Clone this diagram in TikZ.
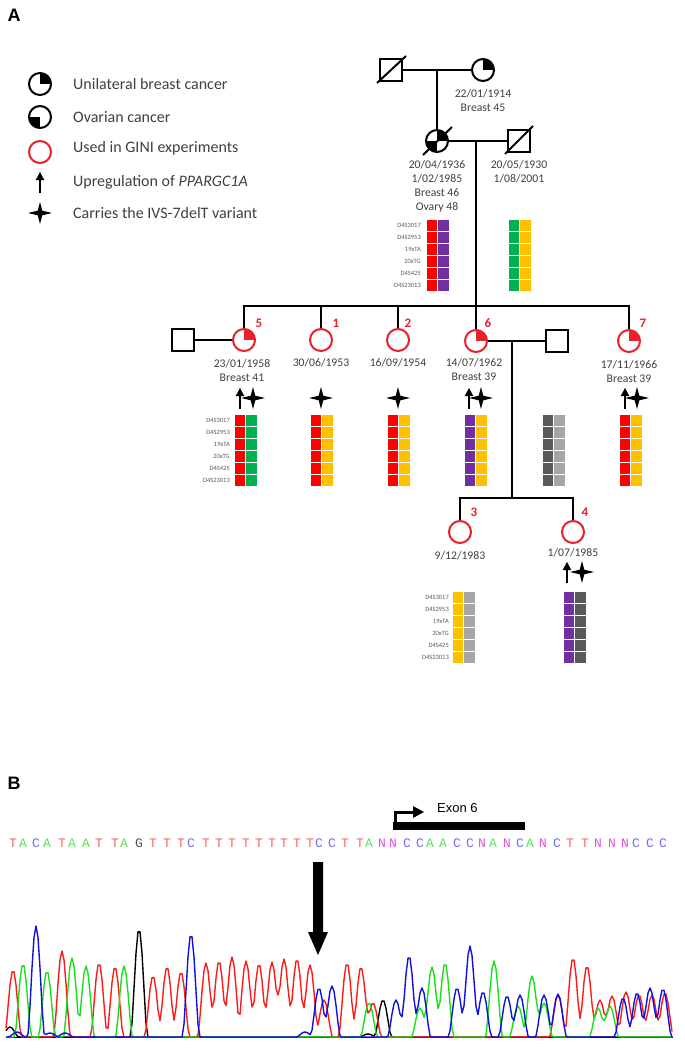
\documentclass[tikz,border=0pt]{standalone}
\usepackage{fontspec}
\setmainfont{Carlito}
\newfontfamily\arialf{Liberation Sans}
\newfontfamily\monof{Liberation Mono}
\usetikzlibrary{calc}
\definecolor{txt}{HTML}{404040}
\definecolor{hred}{HTML}{FF0000}
\definecolor{hpur}{HTML}{7030A0}
\definecolor{hgrn}{HTML}{00B050}
\definecolor{hyel}{HTML}{FFC000}
\definecolor{hdgr}{HTML}{595959}
\definecolor{hlgr}{HTML}{A6A6A6}
\definecolor{pedred}{HTML}{E8202A}
\definecolor{colT}{HTML}{F06464}
\definecolor{colA}{HTML}{5CE05C}
\definecolor{colC}{HTML}{6E6EF0}
\definecolor{colG}{HTML}{505050}
\definecolor{colN}{HTML}{E050E0}
\definecolor{trR}{HTML}{FF1A1A}
\definecolor{trG}{HTML}{1AE01A}
\definecolor{trB}{HTML}{1010E0}
\definecolor{trK}{HTML}{000000}

\makeatletter
\newdimen\trcd
\newcommand\mktrace[2]{%
  \gdef\trc@path{}%
  \foreach \xx in {6,8,...,672}{%
    \gdef\trc@s{0}%
    \foreach \cc/\hh in #2{%
      \trcd=\xx pt\relax
      \advance\trcd by -\cc pt\relax
      \ifdim\trcd<0pt \trcd=-\trcd\fi
      \ifdim\trcd<8.7pt
        \pgfmathsetmacro\trc@t{\trc@s+\hh*(1-(\the\trcd/8.7)^2)^2}%
        \xdef\trc@s{\trc@t}%
      \fi
    }%
    \pgfmathsetmacro\trc@y{1037-\trc@s}%
    \xdef\trc@path{\trc@path(\xx,\trc@y)}%
  }%
  \global\let#1\trc@path
}
\makeatother

\def\redpeaks{13/67,62/86,99/74,115/70,153/61,167/70,181/65,206/74,219/76,232/80,246/76,259/73,272/75,284/78,297/78,310/72,324/37,347/74,361/70,373/34,558/42,573/79,587/71,600/37,612/41,626/45,639/42,652/42,665/44}
\def\greenpeaks{23/73,47/66,72/79,86/71,124/71,369/34,420/29,432/70,445/74,494/76,518/31,532/61,544/34,598/29,610/31}
\def\bluepeaks{17/5,36/111,50/4,65/4,191/103,305/5,319/49,332/51,396/37,409/81,422/49,457/49,470/91,483/45,507/41,520/42,544/42,558/43,623/39,637/44,650/49,663/48}
\def\blackpeaks{10/10,139/108,368/3,383/37}

\tikzset{
  starsym/.pic={\fill (0,-11) -- (2.3,-2.3) -- (12,0) -- (2.3,2.3) -- (0,11) -- (-2.3,2.3) -- (-12,0) -- (-2.3,-2.3) -- cycle;},
  uparrow/.pic={\draw[line width=2.2pt] (0,10) -- (0,-4); \fill (0,-11) -- (4.3,-3) -- (-4.3,-3) -- cycle;},
}

\newcommand\qfill[3]{\begin{scope}\clip (#1.center) circle[radius=11pt]; \fill[#3] (#1.center) rectangle ++(#2);\end{scope}}
\newcommand\hapblock[4]{%
  \foreach \k in {0,...,5}{%
    \filldraw[fill=#3, draw=white, line width=0.8pt] (#1,#2+12*\k) rectangle (#1+11.5,#2+12*\k+12);
    \filldraw[fill=#4, draw=white, line width=0.8pt] (#1+11.5,#2+12*\k) rectangle (#1+23,#2+12*\k+12);
  }}
\newcommand\haplabels[3]{%
  \foreach \lab [count=\k from 0] in {D4S3017,D4S2953,19xTA,20xTG,D4S425,D4S23013}{%
    \node[haplbl] (#3-\k) at (#1,#2+6+12*\k) {\lab};
  }}

\begin{document}
\begin{tikzpicture}[x=1pt,y=-1pt,
  ped/.style={line width=2pt},
  male/.style={draw=black, line width=2pt, rectangle, minimum size=22pt, inner sep=0pt},
  fem/.style={draw=black, line width=2pt, circle, minimum size=22pt, inner sep=0pt},
  gini/.style={fem, draw=pedred},
  lbl/.style={text=txt, font=\fontsize{11.7}{14}\selectfont, align=center, inner sep=0pt},
  num/.style={text=pedred, font=\fontsize{13}{14}\selectfont\bfseries, inner sep=0pt},
  leg/.style={text=txt, font=\fontsize{16}{18}\selectfont, anchor=west, inner sep=0pt},
  haplbl/.style={text=hdgr, font=\fontsize{6.5}{7}\selectfont, anchor=east, inner sep=0pt},
  seq/.style={font=\monof\fontsize{13}{14}\selectfont, inner sep=0pt},
  trace/.style={line width=1.4pt, line join=round},
  panel/.style={font=\arialf\bfseries\fontsize{18}{20}\selectfont, inner sep=0pt},
]
\useasboundingbox (0,0) rectangle (685,1049);

% panel labels
\node[panel] (panA) at (14,15) {A};
\node[panel] (panB) at (14,783) {B};

% legend
\node[fem] (legbc) at (40,84) {};
\qfill{legbc}{12pt,12pt}{black}
\node[fem] (legov) at (40,117) {};
\qfill{legov}{-12pt,-12pt}{black}
\node[gini] (legred) at (40,152) {};
\pic at (40,183) {uparrow};
\pic at (40,213) {starsym};
\node[leg] (t1) at (73,84) {Unilateral breast cancer};
\node[leg] (t2) at (73,117) {Ovarian cancer};
\node[leg] (t3) at (73,148) {Used in GINI experiments};
\node[leg] (t4) at (73,182) {Upregulation of \textit{PPARGC1A}};
\node[leg] (t5) at (73,213) {Carries the IVS-7delT variant};

% generation I
\node[male] (g1m) at (391,70) {};
\node[fem] (g1f) at (483,70) {};
\qfill{g1f}{12pt,12pt}{black}
\draw[ped] (g1m) -- (g1f);
\draw[ped] (g1m.center) ++(-14,13) -- ++(29,-27);
\coordinate (g1c) at (437,70);
\node[lbl] (g1ft) at (483,100) {22/01/1914\\Breast 45};

% generation II
\node[fem] (g2f) at (437,141) {};
\qfill{g2f}{12pt,12pt}{black}
\qfill{g2f}{-12pt,-12pt}{black}
\node[male] (g2m) at (519,141) {};
\draw[ped] (g1c) -- (g2f);
\draw[ped] (g2f) -- (g2m);
\draw[ped] (g2f.center) ++(-14,14) -- ++(29,-28);
\draw[ped] (g2m.center) ++(-14,13) -- ++(28,-28);
\node[lbl] (g2ft) at (437,186) {20/04/1936\\1/02/1985\\Breast 46\\Ovary 48};
\node[lbl] (g2mt) at (519,172) {20/05/1930\\1/08/2001};
\coordinate (g2c) at (476,141);
\coordinate (sib3) at (476,306);
\haplabels{421}{219}{hlA}
\hapblock{426}{219}{hred}{hpur}
\hapblock{508}{219}{hgrn}{hyel}

% generation III
\coordinate (s3l) at (244,306);
\coordinate (s3r) at (629,306);
\coordinate (c5) at (244,306);
\coordinate (c1) at (321,306);
\coordinate (c2) at (398,306);
\coordinate (c7) at (629,306);
\draw[ped] (g2c) -- (sib3);
\draw[ped] ([xshift=-1pt]s3l) -- ([xshift=1pt]s3r);
\node[male] (h5) at (183,340) {};
\node[gini] (p5) at (244,340) {};
\qfill{p5}{12pt,12pt}{pedred}
\node[gini] (p1) at (321,340) {};
\node[gini] (p2) at (398,340) {};
\node[gini] (p6) at (476,341) {};
\qfill{p6}{12pt,12pt}{pedred}
\node[male] (h6) at (557,341) {};
\node[gini] (p7) at (629,341) {};
\qfill{p7}{12pt,12pt}{pedred}
\draw[ped] (c5) -- (p5);
\draw[ped] (c1) -- (p1);
\draw[ped] (c2) -- (p2);
\draw[ped] (sib3) -- (p6);
\draw[ped] (c7) -- (p7);
\draw[ped] (h5) -- (p5);
\draw[ped] (p6) -- (h6);
\node[num] (n5) at (259,323) {5};
\node[num] (n1) at (336,323) {1};
\node[num] (n2) at (408,323) {2};
\node[num] (n6) at (488,323) {6};
\node[num] (n7) at (643,323) {7};
\node[lbl] (p5t) at (242,370.5) {23/01/1958\\Breast 41};
\node[lbl] (p1t) at (321,363) {30/06/1953};
\node[lbl] (p2t) at (398,363) {16/09/1954};
\node[lbl] (p6t) at (474,369.5) {14/07/1962\\Breast 39};
\node[lbl] (p7t) at (629,371) {17/11/1966\\Breast 39};
\pic at (240,399) {uparrow};
\pic at (253,398) {starsym};
\pic at (321,398) {starsym};
\pic at (398,398) {starsym};
\pic at (469,399) {uparrow};
\pic at (481,398) {starsym};
\pic at (625,399) {uparrow};
\pic at (637,398) {starsym};
\haplabels{230}{414}{hlB}
\hapblock{234}{414}{hred}{hgrn}
\hapblock{310}{414}{hred}{hyel}
\hapblock{387}{414}{hred}{hyel}
\hapblock{464}{414}{hpur}{hyel}
\hapblock{542}{414}{hdgr}{hlgr}
\hapblock{619}{414}{hred}{hyel}

% generation IV
\coordinate (c6) at (512,341);
\coordinate (s4) at (512,498);
\coordinate (s4l) at (460,498);
\coordinate (s4r) at (573,498);
\draw[ped] (c6) -- (s4);
\draw[ped] ([xshift=-1pt]s4l) -- ([xshift=1pt]s4r);
\node[gini] (p3) at (460,532) {};
\node[gini] (p4) at (573,532) {};
\draw[ped] (s4l) -- (p3);
\draw[ped] (s4r) -- (p4);
\node[num] (n3) at (474,512) {3};
\node[num] (n4) at (585,512) {4};
\node[lbl] (p3t) at (460,556) {9/12/1983};
\node[lbl] (p4t) at (573,553) {1/07/1985};
\pic at (567,573) {uparrow};
\pic at (582,572) {starsym};
\haplabels{449}{591}{hlC}
\hapblock{452}{591}{hyel}{hlgr}
\hapblock{563}{591}{hpur}{hdgr}

% panel B: sequence
\foreach \ch/\xp [count=\i] in {T/13,A/23,C/36,A/47,T/62,A/72,A/86,T/99,T/115,A/124,G/139,T/153,T/167,T/181,C/191,T/206,T/219,T/232,T/246,T/259,T/272,T/284,T/297,T/310,C/319,C/332,T/345,T/360,A/369,N/382,N/393,C/407,C/420,A/430,A/443,C/457,C/470,N/482,A/493,N/507,C/520,A/530,N/543,C/557,T/570,T/585,N/598,N/612,N/625,C/636,C/650,C/663}
  \node[seq, text=col\ch] (sq\i) at (\xp,843) {\ch};

% exon marker
\fill (393,822) rectangle (525,830);
\draw[line width=3pt] (395,823) -- (395,812) -- (414,812);
\fill (424,812) -- (413,806) -- (413,818) -- cycle;
\node[font=\arialf\fontsize{13}{14}\selectfont, anchor=west, inner sep=0pt] (exon) at (437,808) {Exon 6};

% down arrow
\fill (313,862) -- (323,862) -- (323,932) -- (328,932) -- (318,955) -- (308,932) -- (313,932) -- cycle;

% chromatogram
\draw[line width=1pt] (6,1037) -- (673,1037);
\mktrace\blackpath\blackpeaks
\mktrace\redpath\redpeaks
\mktrace\greenpath\greenpeaks
\mktrace\bluepath\bluepeaks
\edef\tmp{\noexpand\draw[trace,trK] plot coordinates {\blackpath};}\tmp
\edef\tmp{\noexpand\draw[trace,trR] plot coordinates {\redpath};}\tmp
\edef\tmp{\noexpand\draw[trace,trG] plot coordinates {\greenpath};}\tmp
\edef\tmp{\noexpand\draw[trace,trB] plot coordinates {\bluepath};}\tmp
\end{tikzpicture}
\end{document}
